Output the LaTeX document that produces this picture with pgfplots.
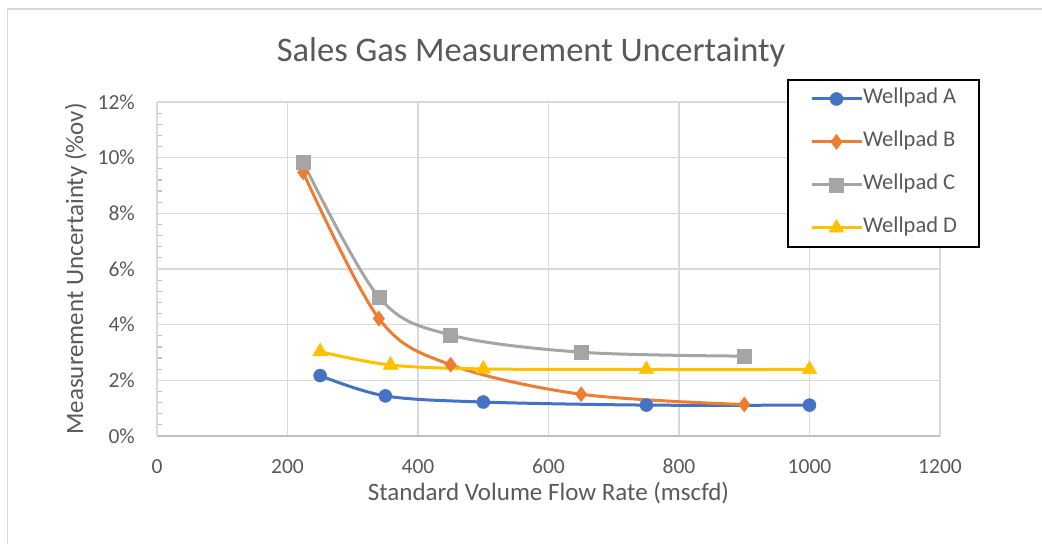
\documentclass[border=0pt]{standalone}
\usepackage{fontspec}
\setmainfont{Carlito}
\usepackage{pgfplots}
\pgfplotsset{compat=1.18}
\definecolor{txtgray}{HTML}{595959}
\definecolor{gridgray}{HTML}{D9D9D9}
\definecolor{axgray}{HTML}{BFBFBF}
\definecolor{cA}{HTML}{4472C4}
\definecolor{cB}{HTML}{ED7D31}
\definecolor{cC}{HTML}{A5A5A5}
\definecolor{cD}{HTML}{FFC000}
\begin{document}
\begin{tikzpicture}
\useasboundingbox (0,0) rectangle (1042bp,544bp);
\draw[gridgray, line width=1.5bp] (7.5bp,-20bp) rectangle (1080bp,535bp);
\node[anchor=base, text=txtgray, inner sep=0pt, font=\fontsize{34.5bp}{40bp}\selectfont] at (531bp,482bp) {Sales Gas Measurement Uncertainty};
\begin{axis}[
  at={(157bp,108bp)}, anchor=south west,
  width=783bp, height=334bp, scale only axis,
  xmin=0, xmax=1200, ymin=0, ymax=12,
  xtick={0,200,...,1200}, ytick={0,2,...,12},
  minor y tick num=4,
  axis x line*=bottom, axis y line*=left,
  x axis line style={draw=axgray, line width=2bp, -},
  y axis line style={draw=gridgray, line width=1.5bp, -},
  major tick length=0pt, minor tick length=5bp, tick align=inside,
  minor tick style={draw=axgray, line width=1.2bp},
  grid=major, major grid style={draw=gridgray, line width=1.5bp},
  /pgf/number format/assume math mode=true,
  /pgf/number format/1000 sep={},
  ticklabel style={text=txtgray, font=\fontsize{21.5bp}{25bp}\selectfont, inner sep=0pt},
  xticklabel style={yshift=-23bp},
  yticklabel style={xshift=-22bp},
  yticklabel={\pgfmathprintnumber{\tick}\%},
  xlabel={Standard Volume Flow Rate (mscfd)},
  ylabel={Measurement Uncertainty (\%ov)},
  label style={text=txtgray, font=\fontsize{25bp}{30bp}\selectfont, inner sep=0pt},
  xlabel style={at={(axis description cs:0.5,0)}, anchor=base, yshift=-64bp},
  ylabel style={at={(axis description cs:-0.1034,0.5)}, anchor=center},
  legend cell align=left,
  legend style={at={(rel axis cs:0.8046,1.0689)}, anchor=north west, draw=black, line width=2bp, fill=white,
    font=\fontsize{22.5bp}{26bp}\selectfont, text=txtgray, inner xsep=22bp, inner ysep=9bp, row sep=23bp,
    nodes={inner sep=0pt, text height=15bp, text depth=5bp},
    /tikz/every even column/.append style={column sep=5bp}},
  legend image code/.code={\draw[mark repeat=2, mark phase=2, #1] plot coordinates {(0bp,0bp) (25bp,0bp) (50bp,0bp)};},
  every axis plot/.append style={line width=3bp, smooth, tension=0.55},
  clip=false,
]
\addplot[cA, mark=*, mark size=6.5bp, mark options={solid, fill=cA, draw=cA, line width=0.5bp}] coordinates {(250,2.17) (350,1.44) (500,1.22) (750,1.11) (1000,1.11)};
\addlegendentry{Wellpad A}
\addplot[cB, mark=diamond*, mark size=7.5bp, mark options={solid, fill=cB, draw=cB, line width=0.5bp}] coordinates {(224,9.47) (340,4.22) (450,2.56) (650,1.50) (900,1.13)};
\addlegendentry{Wellpad B}
\addplot[cC, mark=square*, mark size=7bp, mark options={solid, fill=cC, draw=cC, line width=0.5bp}] coordinates {(224,9.83) (340,4.99) (450,3.63) (650,3.01) (900,2.87)};
\addlegendentry{Wellpad C}
\addplot[cD, mark=triangle*, mark size=8.5bp, mark options={solid, fill=cD, draw=cD, line width=0.5bp}] coordinates {(250,3.03) (358,2.55) (500,2.41) (750,2.39) (1000,2.39)};
\addlegendentry{Wellpad D}
\end{axis}
\end{tikzpicture}
\end{document}
